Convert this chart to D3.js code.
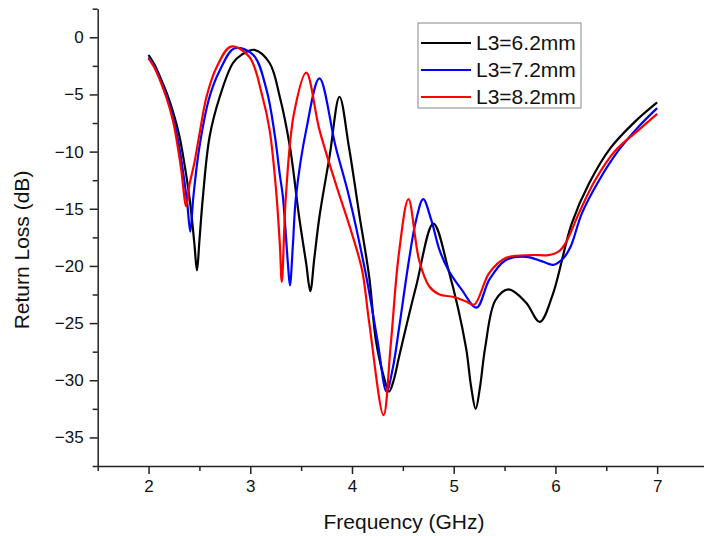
<!DOCTYPE html>
<html>
<head>
<meta charset="utf-8">
<script src="https://cdn.jsdelivr.net/npm/d3@7"></script>
<style>
  body { margin: 0; background: #fff; }
  svg { display: block; font-family: "Liberation Sans", Arial, sans-serif; }
</style>
</head>
<body>
<div id="chart"></div>
<script>
// frequency (GHz) / return loss (dB)
const freq62 = [2.00, 2.06, 2.11, 2.18, 2.24, 2.30, 2.34, 2.405, 2.45, 2.476, 2.50, 2.535, 2.60, 2.70, 2.83, 2.92, 3.04, 3.19, 3.29, 3.39, 3.48, 3.55, 3.59, 3.63, 3.68, 3.78, 3.877, 3.97, 4.07, 4.17, 4.235, 4.31, 4.365, 4.41, 4.464, 4.63, 4.80, 4.95, 5.12, 5.17, 5.216, 5.26, 5.31, 5.41, 5.54, 5.71, 5.846, 5.97, 6.16, 6.33, 6.54, 6.78, 7.00];
const rl62 = [-1.55, -2.4, -3.4, -4.9, -6.5, -8.5, -10.4, -14.2, -18.0, -20.4, -17.8, -13.9, -8.7, -5.2, -2.25, -1.5, -1.1, -2.25, -5.2, -9.6, -15.7, -19.8, -22.2, -19.3, -15.7, -10.4, -5.2, -9.6, -15.4, -21.0, -26.5, -29.6, -31.0, -30.0, -27.9, -21.8, -16.3, -20.4, -27.1, -30.5, -32.5, -30.5, -27.1, -23.0, -22.05, -23.2, -24.9, -22.6, -16.3, -12.8, -9.7, -7.4, -5.7];

const freq72 = [2.00, 2.06, 2.11, 2.18, 2.24, 2.29, 2.33, 2.38, 2.41, 2.44, 2.50, 2.60, 2.70, 2.846, 3.03, 3.16, 3.24, 3.29, 3.32, 3.37, 3.39, 3.42, 3.45, 3.55, 3.68, 3.84, 3.97, 4.14, 4.25, 4.34, 4.40, 4.465, 4.56, 4.63, 4.70, 4.78, 4.86, 4.95, 5.08, 5.225, 5.35, 5.51, 5.71, 5.87, 5.98, 6.08, 6.15, 6.26, 6.43, 6.62, 6.82, 7.00];
const rl72 = [-1.75, -2.6, -3.6, -5.2, -7.0, -9.0, -11.2, -14.5, -17.0, -14.0, -9.6, -5.2, -2.9, -0.96, -1.55, -4.6, -8.5, -12.0, -13.9, -19.8, -21.7, -18.0, -13.9, -8.1, -3.6, -9.6, -13.9, -20.9, -26.5, -31.0, -29.0, -25.3, -19.5, -16.0, -14.15, -16.0, -18.6, -20.4, -22.1, -23.65, -21.2, -19.5, -19.2, -19.6, -19.9, -19.3, -18.3, -15.4, -12.5, -9.9, -7.8, -6.2];

const freq82 = [2.00, 2.06, 2.11, 2.18, 2.24, 2.28, 2.32, 2.37, 2.40, 2.45, 2.50, 2.57, 2.67, 2.81, 2.99, 3.12, 3.19, 3.25, 3.29, 3.31, 3.35, 3.43, 3.55, 3.68, 3.84, 4.00, 4.10, 4.17, 4.31, 4.38, 4.46, 4.555, 4.66, 4.76, 4.86, 4.99, 5.12, 5.20, 5.35, 5.51, 5.77, 5.93, 6.03, 6.10, 6.23, 6.39, 6.59, 6.82, 7.00];
const rl82 = [-1.85, -2.7, -3.7, -5.4, -7.3, -9.2, -11.5, -14.8, -13.0, -11.0, -8.5, -5.2, -2.6, -0.82, -1.7, -5.2, -8.1, -13.0, -18.0, -21.4, -13.9, -6.65, -3.1, -8.1, -12.8, -17.2, -20.4, -25.0, -33.05, -27.0, -19.0, -14.15, -19.5, -21.8, -22.5, -22.7, -23.1, -23.4, -20.6, -19.3, -19.05, -19.05, -18.75, -18.0, -15.4, -12.5, -9.9, -8.1, -6.7];

const seriesNames = ['L3=6.2mm', 'L3=7.2mm', 'L3=8.2mm'];
const seriesColors = ['#000000', '#0000ff', '#ff0000'];
const xTicks = [2, 3, 4, 5, 6, 7];
const yTicks = [0, -5, -10, -15, -20, -25, -30, -35];

const series = [
    { name: seriesNames[0], color: seriesColors[0], values: freq62.map((f, i) => ({ f, db: rl62[i] })) },
    { name: seriesNames[1], color: seriesColors[1], values: freq72.map((f, i) => ({ f, db: rl72[i] })) },
    { name: seriesNames[2], color: seriesColors[2], values: freq82.map((f, i) => ({ f, db: rl82[i] })) }
];

const width = 704, height = 536;

const svg = d3.select('#chart')
    .append('svg')
    .attr('width', width)
    .attr('height', height);

// Scales (plot is cut off at the right edge, as in the original)
const x = d3.scaleLinear().domain([1.5, 7.5]).range([97.7, 708]);
const y = d3.scaleLinear().domain([-37.5, 2.5]).range([466, 8.7]);

// Minor ticks first
const xMinor = d3.range(1.5, 7.6, 1);
const yMinor = d3.range(-37.5, 2.6, 5);

svg.append('g')
    .attr('transform', `translate(0,${y(-37.5)})`)
    .call(d3.axisBottom(x).tickValues(xMinor).tickSize(5).tickFormat(''))
    .call(g => g.select('.domain').remove())
    .selectAll('line').attr('stroke', '#222').attr('stroke-width', 1.5);

svg.append('g')
    .attr('transform', `translate(${x(1.5)},0)`)
    .call(d3.axisLeft(y).tickValues(yMinor).tickSize(5).tickFormat(''))
    .call(g => g.select('.domain').remove())
    .selectAll('line').attr('stroke', '#222').attr('stroke-width', 1.5);

// Major axes
const xAxis = svg.append('g')
    .attr('transform', `translate(0,${y(-37.5)})`)
    .call(d3.axisBottom(x).tickValues(xTicks).tickSize(8).tickSizeOuter(0).tickPadding(6).tickFormat(d3.format('d')));

const yAxis = svg.append('g')
    .attr('transform', `translate(${x(1.5)},0)`)
    .call(d3.axisLeft(y).tickValues(yTicks).tickSize(8).tickSizeOuter(0).tickPadding(6).tickFormat(d3.format('d')));

[xAxis, yAxis].forEach(g => {
    g.select('.domain').attr('stroke', '#222').attr('stroke-width', 1.5);
    g.selectAll('.tick line').attr('stroke', '#222').attr('stroke-width', 1.5);
    g.selectAll('.tick text')
        .attr('fill', '#111')
        .style('font-size', '17px')
        .style('font-family', '"Liberation Sans", Arial, sans-serif');
});

// Axis titles
svg.append('text')
    .attr('x', 404)
    .attr('y', 529)
    .attr('text-anchor', 'middle')
    .attr('fill', '#111')
    .style('font-size', '21px')
    .text('Frequency (GHz)');

svg.append('text')
    .attr('transform', 'translate(29,250) rotate(-90)')
    .attr('text-anchor', 'middle')
    .attr('fill', '#111')
    .style('font-size', '21px')
    .text('Return Loss (dB)');

// Curves
const line = d3.line()
    .x(d => x(d.f))
    .y(d => y(d.db))
    .curve(d3.curveCatmullRom.alpha(0.5));

svg.append('g')
    .selectAll('path')
    .data(series)
    .join('path')
    .attr('fill', 'none')
    .attr('stroke', d => d.color)
    .attr('stroke-width', 2.2)
    .attr('stroke-linejoin', 'round')
    .attr('d', d => line(d.values));

// Legend
const legend = svg.append('g').attr('transform', 'translate(418,23)');

legend.append('rect')
    .attr('width', 163)
    .attr('height', 85)
    .attr('fill', '#fff')
    .attr('stroke', '#888')
    .attr('stroke-width', 1);

const items = legend.selectAll('g.item')
    .data(series)
    .join('g')
    .attr('class', 'item')
    .attr('transform', (d, i) => `translate(0,${20 + i * 27})`);

items.append('line')
    .attr('x1', 3)
    .attr('x2', 53)
    .attr('stroke', d => d.color)
    .attr('stroke-width', 2.2);

items.append('text')
    .attr('x', 58)
    .attr('dy', '0.35em')
    .attr('fill', '#111')
    .style('font-size', '21px')
    .text(d => d.name);
</script>
</body>
</html>
